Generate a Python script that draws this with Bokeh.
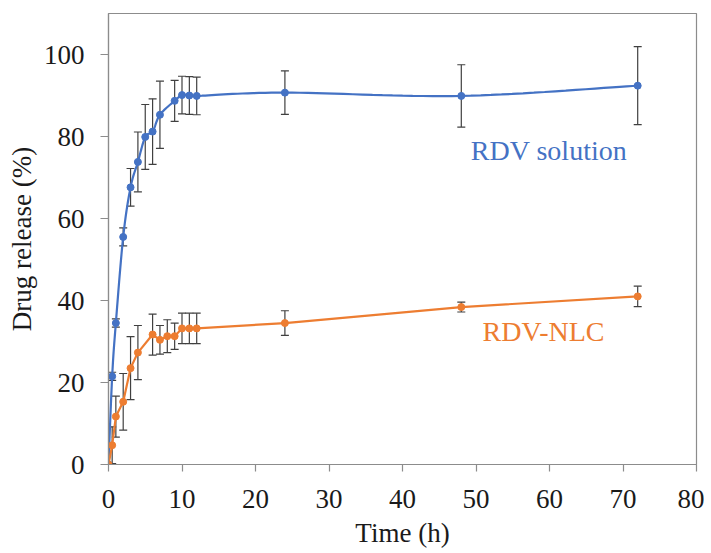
import numpy as np
from bokeh.plotting import figure
from bokeh.models import ColumnDataSource, Whisker, TeeHead, FixedTicker, Label
from bokeh.embed import file_html
from bokeh.resources import INLINE

# ---- data ----
sol_time = [0, 0.5, 1, 2, 3, 4, 5, 6, 7, 9, 10, 11, 12, 24, 48, 72]
sol_release = [0, 21.5, 34.5, 55.5, 67.6, 73.8, 79.9, 81.2, 85.3, 88.7, 90.1, 90.0, 89.9, 90.7, 89.9, 92.4]
sol_err = [0, 1.0, 1.0, 2.2, 4.6, 7.3, 7.9, 8.0, 8.2, 5.0, 4.6, 4.6, 4.6, 5.3, 7.6, 9.5]

nlc_time = [0, 0.5, 1, 2, 3, 4, 6, 7, 8, 9, 10, 11, 12, 24, 48, 72]
nlc_release = [0, 4.7, 11.7, 15.3, 23.5, 27.3, 31.7, 30.4, 31.3, 31.3, 33.2, 33.2, 33.2, 34.5, 38.4, 41.0]
nlc_err = [0, 4.5, 5.0, 6.9, 7.7, 6.6, 5.0, 3.5, 4.0, 3.2, 3.7, 3.7, 3.7, 3.0, 1.2, 2.5]

x_ticks = [0, 10, 20, 30, 40, 50, 60, 70, 80]
y_ticks = [0, 20, 40, 60, 80, 100]

BLUE = "#4472C4"
ORANGE = "#ED7D31"
FONT = "Liberation Serif"


def smooth(xs, ys, sx=7.35, sy=4.14, n=20):
    """Excel-like smoothed line (cardinal Bezier) computed in screen-like space."""
    P = np.column_stack([np.asarray(xs, float) * sx, np.asarray(ys, float) * sy])
    out = [P[0]]
    for i in range(len(P) - 1):
        p0 = P[i - 1] if i > 0 else P[i]
        p1, p2 = P[i], P[i + 1]
        p3 = P[i + 2] if i + 2 < len(P) else P[i + 1]
        c1 = p1 + (p2 - p0) / 6.0
        c2 = p2 - (p3 - p1) / 6.0
        t = np.linspace(0, 1, n)[1:, None]
        seg = ((1 - t) ** 3) * p1 + 3 * ((1 - t) ** 2) * t * c1 + 3 * (1 - t) * t ** 2 * c2 + t ** 3 * p2
        out.extend(seg)
    out = np.array(out)
    return out[:, 0] / sx, out[:, 1] / sy


p = figure(width=704, height=550, x_range=(0, 80), y_range=(0, 110),
           output_backend="svg", toolbar_location=None,
           min_border_left=108, min_border_right=8, min_border_top=13, min_border_bottom=81)

p.grid.visible = False
p.outline_line_color = "#8c8c8c"
p.outline_line_width = 1.2
p.background_fill_color = "white"
p.border_fill_color = "white"

for ax in (p.xaxis[0], p.yaxis[0]):
    ax.axis_line_color = "#8c8c8c"
    ax.axis_line_width = 1.2
    ax.major_tick_line_color = "#8c8c8c"
    ax.major_tick_line_width = 1.2
    ax.minor_tick_line_color = None
    ax.major_tick_in = 0
    ax.major_label_text_font = FONT
    ax.major_label_text_font_size = "27px"
    ax.major_label_text_color = "#1a1a1a"
    ax.axis_label_text_font = FONT
    ax.axis_label_text_font_size = "27px"
    ax.axis_label_text_font_style = "normal"
    ax.axis_label_text_color = "#1a1a1a"

p.xaxis.ticker = FixedTicker(ticks=x_ticks)
p.yaxis.ticker = FixedTicker(ticks=y_ticks)
p.xaxis.major_tick_out = 7
p.yaxis.major_tick_out = 8
p.xaxis.major_label_standoff = 18
p.yaxis.major_label_standoff = 16
p.xaxis.axis_label = "Time (h)"
p.yaxis.axis_label = "Drug release (%)"
p.xaxis.axis_label_standoff = 7
p.yaxis.axis_label_standoff = 4

sol = ColumnDataSource(dict(x=sol_time, y=sol_release,
                            lo=[v - e for v, e in zip(sol_release, sol_err)],
                            hi=[v + e for v, e in zip(sol_release, sol_err)]))
nlc = ColumnDataSource(dict(x=nlc_time, y=nlc_release,
                            lo=[v - e for v, e in zip(nlc_release, nlc_err)],
                            hi=[v + e for v, e in zip(nlc_release, nlc_err)]))

for src in (sol, nlc):
    w = Whisker(source=src, base="x", lower="lo", upper="hi", dimension="height",
                line_color="#404040", line_width=1.2,
                upper_head=TeeHead(size=8, line_color="#404040", line_width=1.2),
                lower_head=TeeHead(size=8, line_color="#404040", line_width=1.2))
    p.add_layout(w)

sx, sy = smooth(sol_time, sol_release)
p.line(sx, sy, line_color=BLUE, line_width=2.2)
p.scatter("x", "y", source=sol, size=7, fill_color=BLUE, line_color=BLUE)

p.line("x", "y", source=nlc, line_color=ORANGE, line_width=2.2)
p.scatter("x", "y", source=nlc, size=7, fill_color=ORANGE, line_color=ORANGE)

p.add_layout(Label(x=49.3, y=76.6, text="RDV solution", text_font=FONT, text_font_size="28px",
                   text_color=BLUE, text_baseline="middle", text_align="left"))
p.add_layout(Label(x=50.9, y=32.4, text="RDV-NLC", text_font=FONT, text_font_size="28px",
                   text_color=ORANGE, text_baseline="middle", text_align="left"))

open("out.html", "w").write(file_html(p, INLINE))
